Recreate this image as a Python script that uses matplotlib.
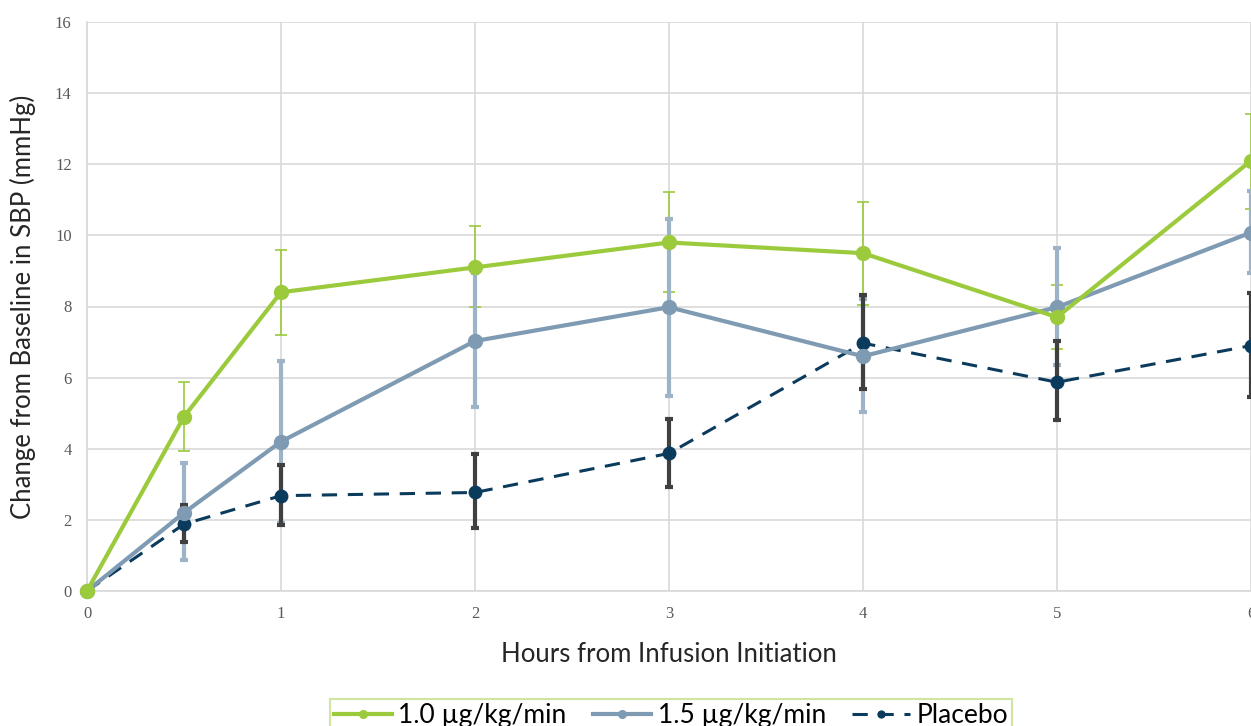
import matplotlib.pyplot as plt

hours = [0, 0.5, 1, 2, 3, 4, 5, 6]

dose10 = [0, 4.9, 8.4, 9.1, 9.8, 9.5, 7.7, 12.1]
dose10_lo = [0, 3.95, 7.2, 8.0, 8.4, 8.05, 6.8, 10.75]
dose10_hi = [0, 5.87, 9.6, 10.27, 11.22, 10.95, 8.6, 13.4]

dose15 = [0, 2.2, 4.2, 7.03, 7.98, 6.6, 7.98, 10.08]
dose15_lo = [0, 0.86, 1.9, 5.17, 5.48, 5.02, 6.35, 8.95]
dose15_hi = [0, 3.6, 6.48, 8.95, 10.47, 8.2, 9.65, 11.25]

placebo = [0, 1.88, 2.68, 2.77, 3.87, 6.97, 5.87, 6.9]
placebo_lo = [0, 1.39, 1.86, 1.76, 2.92, 5.67, 4.8, 5.45]
placebo_hi = [0, 2.41, 3.54, 3.84, 4.85, 8.32, 7.03, 8.38]

labels = ['1.0 µg/kg/min', '1.5 µg/kg/min', 'Placebo']

green = '#9BCB3C'
steel = '#7F9BB3'
steel_err = '#9DB4C8'
navy = '#0B3B5C'
dark_err = '#404040'


def err(mid, lo, hi):
    return [[m - l for m, l in zip(mid, lo)], [h - m for m, h in zip(mid, hi)]]


fig = plt.figure(figsize=(12.51, 7.26), dpi=100)
ax = fig.add_axes([87 / 1251, 1 - 591 / 726, 1 - 87 / 1251, (591 - 22) / 726])

ax.errorbar(hours, dose10, yerr=err(dose10, dose10_lo, dose10_hi), fmt='none',
            ecolor=green, elinewidth=1.2, capsize=4, capthick=1.2, zorder=2)
ax.errorbar(hours, dose15, yerr=err(dose15, dose15_lo, dose15_hi), fmt='none',
            ecolor=steel_err, elinewidth=3, capsize=3, capthick=3, zorder=3)
ax.errorbar(hours, placebo, yerr=err(placebo, placebo_lo, placebo_hi), fmt='none',
            ecolor=dark_err, elinewidth=3, capsize=3, capthick=3, zorder=4)

ax.plot(hours, placebo, color=navy, lw=2.2, ls=(0, (5, 3.5)), marker='o', ms=9,
        label=labels[2], zorder=5, clip_on=False)
ax.plot(hours, dose15, color=steel, lw=3, marker='o', ms=10,
        label=labels[1], zorder=6, clip_on=False)
ax.plot(hours, dose10, color=green, lw=3, marker='o', ms=10,
        label=labels[0], zorder=7, clip_on=False)

ax.set_xlim(0, 6)
ax.set_ylim(0, 16)
ax.set_xticks([0, 1, 2, 3, 4, 5, 6])
ax.set_yticks(range(0, 17, 2))
ax.grid(True, color='#D9D9D9', lw=1.2)
ax.set_axisbelow(True)
for s in ['top', 'right']:
    ax.spines[s].set_visible(False)
for s in ['left', 'bottom']:
    ax.spines[s].set_color('#D9D9D9')
    ax.spines[s].set_linewidth(1.2)
ax.tick_params(length=0, pad=11, labelsize=12, labelcolor='#595959')
for t in ax.get_xticklabels() + ax.get_yticklabels():
    t.set_fontfamily('Liberation Serif')

ax.set_xlabel('Hours from Infusion Initiation', fontsize=18.5, family='Lato',
              color='#262626', labelpad=14)
ax.set_ylabel('Change from Baseline in SBP (mmHg)', fontsize=18.5, family='Lato',
              color='#262626', labelpad=14)

h, l = ax.get_legend_handles_labels()
leg = fig.legend(h[::-1], l[::-1], loc='upper center', bbox_to_anchor=(671 / 1251, 1 - 686 / 726),
                 ncol=3, frameon=True, fancybox=False, prop={'family': 'Lato', 'size': 19},
                 handlelength=2.2, columnspacing=1.0, handletextpad=0.25, borderpad=0.15,
                 markerscale=0.55)
leg.get_frame().set_edgecolor('#C5DE8C')
leg.get_frame().set_linewidth(1.5)

fig.savefig('out.png', dpi=100)
